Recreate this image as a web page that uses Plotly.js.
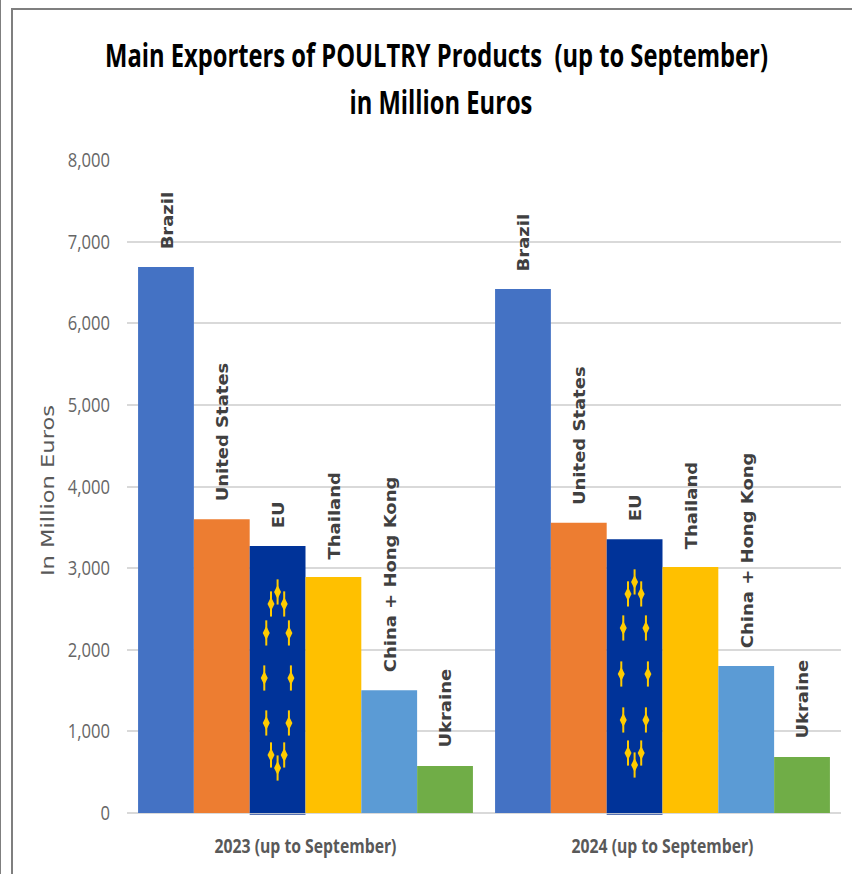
<!DOCTYPE html>
<html><head><meta charset="utf-8">
<script src="https://cdn.plot.ly/plotly-3.0.1.min.js"></script>
<style>html,body{margin:0;padding:0;background:#fff;overflow:hidden}
#c{position:absolute;left:0;top:0;width:852px;height:874px}
.f{position:absolute;background:#7f7f7f;pointer-events:none}</style></head>
<body><div id="c"></div>
<div class="f" style="left:0;top:0;width:1px;height:874px"></div>
<div class="f" style="left:11px;top:8px;width:2px;height:866px"></div>
<div class="f" style="left:11px;top:8px;width:841px;height:2px"></div>
<script>
const years = ["2023 (up to September)", "2024 (up to September)"];
const countries = ["Brazil", "United States", "EU", "Thailand", "China + Hong Kong", "Ukraine"];
const colors = ["#4472C4", "#ED7D31", "#003399", "#FFC000", "#5B9BD5", "#70AD47"];
const v2023 = [6690, 3600, 3270, 2890, 1505, 575];
const v2024 = [6420, 3555, 3355, 3015, 1800, 685];
const yTicks = [0, 1000, 2000, 3000, 4000, 5000, 6000, 7000, 8000];
const starOffsetX = [0, -0.0185, 0.0185, -0.0317, 0.0317, -0.0373, 0.0373, -0.0317, 0.0317, -0.0185, 0.0185, 0];
const star2023Y = [2708, 2561, 2561, 2206, 2206, 1654, 1654, 1103, 1103, 711, 711, 551];
const star2024Y = [2831, 2684, 2684, 2267, 2267, 1703, 1703, 1140, 1140, 735, 735, 588];

const bargap = 0.062, slot = (1 - bargap) / 6;
const off = i => -0.5 + bargap / 2 + slot * (i + 0.5);
const traces = countries.map((c, i) => ({
  type: 'bar', name: c, x: [0, 1], y: [v2023[i], v2024[i]],
  marker: {color: colors[i], line: {width: 0}}
}));
const sx = [], sy = [];
[[0, star2023Y], [1, star2024Y]].forEach(([g, ys]) => ys.forEach((y, k) => {
  sx.push(g + off(2) + starOffsetX[k]); sy.push(y);
}));
traces.push({type: 'scatter', mode: 'markers', x: sx, y: sy,
  marker: {symbol: 'line-ns-open', size: 18, color: '#FFCC00', line: {width: 2, color: '#F2C200'}}});
traces.push({type: 'scatter', mode: 'markers', x: sx, y: sy,
  marker: {symbol: 'diamond-tall', size: 10, color: '#FFCC00', line: {width: 0}}});

const labels = [];
[v2023, v2024].forEach((vals, g) => vals.forEach((v, i) => labels.push({
  x: g + off(i), y: v, xref: 'x', yref: 'y', text: '<b>' + countries[i] + '</b>', textangle: -90, showarrow: false,
  xanchor: 'center', yanchor: 'bottom', yshift: 16, xshift: 1.5,
  font: {family: 'DejaVu Sans', size: 15, color: '#404040'}
})));
const underlines = [0, 1].map(g => ({type: 'line', xref: 'x', yref: 'paper',
  x0: g + off(2) - slot / 2, x1: g + off(2) + slot / 2, y0: -0.002, y1: -0.002,
  line: {color: '#2F4F9F', width: 1}}));

function squeeze(el, s, anchor, shift) {
  const b = el.getBBox(), px = b.x + anchor * b.width, t = el.getAttribute('transform') || '';
  el.setAttribute('transform', t + ' translate(' + (px + (shift || 0)) + ',0) scale(' + s + ',1) translate(' + (-px) + ',0)');
}

Plotly.newPlot('c', traces, {
  width: 852, height: 874, showlegend: false, barmode: 'group', bargap: bargap, bargroupgap: 0,
  paper_bgcolor: '#fff', plot_bgcolor: '#fff',
  margin: {l: 127, r: 11, t: 160, b: 61},
  title: {text: '<b>Main Exporters of POULTRY Products  (up to September)<br>in Million Euros</b>',
    x: 0.5123, xanchor: 'center', y: 0.9237, yanchor: 'top',
    font: {family: 'Open Sans', size: 32, color: '#000'}},
  xaxis: {range: [-0.5, 1.5], tickvals: [0, 1], ticktext: years.map(t => '<b>' + t + '</b>'),
    ticks: 'outside', ticklen: 16, tickcolor: 'rgba(0,0,0,0)',
    showgrid: false, zeroline: false, showline: false,
    tickfont: {family: 'Open Sans', size: 19, color: '#595959'}},
  yaxis: {range: [0, 8000], tickvals: yTicks, tickformat: ',d', gridcolor: '#D9D9D9', gridwidth: 2,
    zeroline: true, zerolinecolor: '#D9D9D9', zerolinewidth: 2, showline: false,
    ticks: 'outside', ticklen: 12, tickcolor: 'rgba(0,0,0,0)',
    tickfont: {family: 'Open Sans', size: 20, color: '#666666'},
    title: {text: 'In Million Euros', standoff: 0, font: {family: 'DejaVu Sans', size: 17, color: '#595959'}}},
  annotations: labels, shapes: underlines, hovermode: false
}, {displayModeBar: false, staticPlot: true}).then(gd => {
  const title = gd.querySelector('.gtitle');
  if (title) {
    squeeze(title, 0.742, 0.5);
    const second = title.querySelectorAll('tspan.line')[1];
    if (second) { second.setAttribute('dy', '1.47em'); second.setAttribute('dx', '6'); }
  }
  gd.querySelectorAll('.xtick text').forEach(t => squeeze(t, 0.83, 0.5));
  gd.querySelectorAll('.ytick text').forEach(t => squeeze(t, 0.83, 1));
  const yt = gd.querySelector('.ytitle');
  if (yt) squeeze(yt, 1.33, 0.5, -4);
  gd.querySelectorAll('.annotation-text-g text, .annotation text').forEach(t => {
    if (!t.dataset.sq) { t.dataset.sq = 1; squeeze(t, 1.2, 0); }
  });
});
</script></body></html>
